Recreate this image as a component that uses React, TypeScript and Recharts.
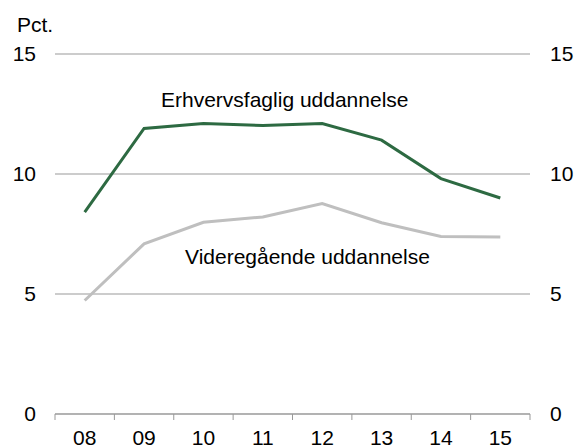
import { LineChart, Line, XAxis, YAxis, CartesianGrid } from "recharts";

const years = ["08", "09", "10", "11", "12", "13", "14", "15"];
const erhvervsfaglig = [8.41, 11.9, 12.1, 12.02, 12.1, 11.41, 9.81, 9.0];
const videregaaende = [4.73, 7.09, 7.99, 8.21, 8.77, 7.97, 7.4, 7.37];
const yTicks = [0, 5, 10, 15];
const xTicks = [-0.5, 0, 0.5, 1, 1.5, 2, 2.5, 3, 3.5, 4, 4.5, 5, 5.5, 6, 6.5, 7, 7.5];

const data = years.map((y, i) => ({
  i,
  year: y,
  erhverv: erhvervsfaglig[i],
  videre: videregaaende[i],
}));

const FONT = "'Liberation Sans', Arial, sans-serif";

function XTick(props: any) {
  const { x, y, payload } = props;
  const v = payload.value as number;
  if (!Number.isInteger(v)) {
    return <line x1={x} x2={x} y1={y} y2={y + 6} stroke="#999" strokeWidth={1} />;
  }
  return (
    <text x={x} y={y + 31} textAnchor="middle" fontSize={21} fontFamily={FONT} fill="#000">
      {years[v]}
    </text>
  );
}

export default function App() {
  return (
    <div style={{ position: "absolute", left: 0, top: 0, width: 574, height: 448, background: "#fff" }}>
      <LineChart width={574} height={448} data={data} margin={{ top: 54, right: 0, bottom: 0, left: 0 }}>
        <CartesianGrid yAxisId="l" vertical={false} stroke="#999" />
        <XAxis
          dataKey="i"
          type="number"
          domain={[-0.5, 7.5]}
          ticks={xTicks}
          interval={0}
          height={34}
          tickSize={0}
          tickMargin={0}
          tickLine={false}
          axisLine={{ stroke: "#999" }}
          tick={<XTick />}
        />
        <YAxis
          yAxisId="l"
          domain={[0, 15]}
          ticks={yTicks}
          width={55}
          axisLine={false}
          tickLine={false}
          tickMargin={13}
          tick={{ fill: "#000", fontSize: 21, fontFamily: FONT }}
        />
        <YAxis
          yAxisId="r"
          orientation="right"
          domain={[0, 15]}
          ticks={yTicks}
          width={44}
          axisLine={false}
          tickLine={false}
          tickMargin={14}
          tick={{ fill: "#000", fontSize: 21, fontFamily: FONT }}
        />
        <Line yAxisId="r" dataKey="videre" stroke="#bfbfbf" strokeWidth={3} dot={false} isAnimationActive={false} />
        <Line yAxisId="l" dataKey="erhverv" stroke="#2d6a42" strokeWidth={3} dot={false} isAnimationActive={false} />
      </LineChart>
      <svg width={574} height={448} style={{ position: "absolute", left: 0, top: 0, pointerEvents: "none" }}>
        <text x={17} y={31.5} fontSize={21} fontFamily={FONT} fill="#000">Pct.</text>
        <text x={161} y={107} fontSize={21} fontFamily={FONT} fill="#000">Erhvervsfaglig uddannelse</text>
        <text x={185} y={264} fontSize={21} fontFamily={FONT} fill="#000">Videregående uddannelse</text>
      </svg>
    </div>
  );
}
